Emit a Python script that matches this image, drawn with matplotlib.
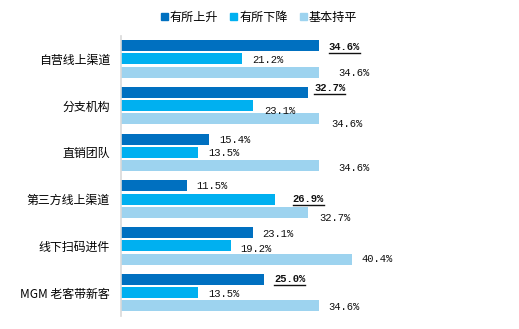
import matplotlib.pyplot as plt
from matplotlib.patches import Patch
from matplotlib.lines import Line2D
import numpy as np

plt.rcParams['font.family'] = ['Noto Sans CJK SC', 'DejaVu Sans']

categories = ['自营线上渠道', '分支机构', '直销团队', '第三方线上渠道', '线下扫码进件', 'MGM 老客带新客']
series_names = ['有所上升', '有所下降', '基本持平']
up = [34.6, 32.7, 15.4, 11.5, 23.1, 25.0]
down = [21.2, 23.1, 13.5, 26.9, 19.2, 13.5]
flat = [34.6, 34.6, 34.6, 32.7, 40.4, 34.6]
# (series index, category index) of the highlighted labels
highlight = [(0, 0), (0, 1), (1, 3), (0, 5)]

colors = ['#0070c0', '#00b0f0', '#9dd3ef']

# label nudges in pixels (dx from bar end, dy downward)
lbl_dx = [[10, 6, 10, 10, 9, 10],
          [10, 11, 10, 18, 9, 10],
          [19, 12, 19, 11, 9, 9]]
lbl_dy = [[1.5, -4, 1, 0, 1, 0],
          [1, 5, 1, 0, 3, 1],
          [1, 5, 2, 6, 0, 1]]

W, H = 519, 329
fig = plt.figure(figsize=(W / 100, H / 100), dpi=100)
ax = fig.add_axes([121 / W, 1 - 316 / H, (500 - 121) / W, (316 - 35.5) / H])

y = np.arange(len(categories))
step = 0.285
bh = 0.236
px = 0.72  # points per pixel
bold_texts = []
for s, vals in enumerate([up, down, flat]):
    pos = y + (s - 1) * step
    ax.barh(pos, vals, height=bh, color=colors[s], label=series_names[s])
    for i, v in enumerate(vals):
        hl = (s, i) in highlight
        t = ax.annotate(f'{v:.1f}%', (v, pos[i]),
                        xytext=(lbl_dx[s][i] * px, -lbl_dy[s][i] * px),
                        textcoords='offset points', ha='left', va='center',
                        fontsize=7.6, family='Liberation Mono',
                        fontweight='bold' if hl else 'normal', color='#111111')
        if hl:
            bold_texts.append(t)

ax.set_xlim(0, 379 / 5.72)
ax.set_ylim(len(categories) - 0.5, -0.5)
ax.set_yticks(y)
ax.set_yticklabels(categories, fontsize=8.6)
ax.tick_params(axis='y', length=0, pad=8)
ax.set_xticks([])
for sp in ['top', 'right', 'bottom']:
    ax.spines[sp].set_visible(False)
ax.spines['left'].set_color('#d9d9d9')
ax.spines['left'].set_linewidth(1.2)

handles = [Patch(color=c) for c in colors]
fig.legend(handles, series_names, loc='center', bbox_to_anchor=(0.499, 0.948),
           ncol=3, frameon=False, fontsize=8.7, handlelength=0.6, handleheight=0.6,
           handletextpad=0.15, columnspacing=1.0)

# underline the highlighted labels
fig.canvas.draw()
for t in bold_texts:
    bb = t.get_window_extent()
    yl = bb.y0 - 0.5
    fig.add_artist(Line2D([bb.x0 / W, bb.x1 / W], [yl / H, yl / H],
                          color='#111111', linewidth=1.0, transform=fig.transFigure))

fig.savefig('out.png', dpi=100)
